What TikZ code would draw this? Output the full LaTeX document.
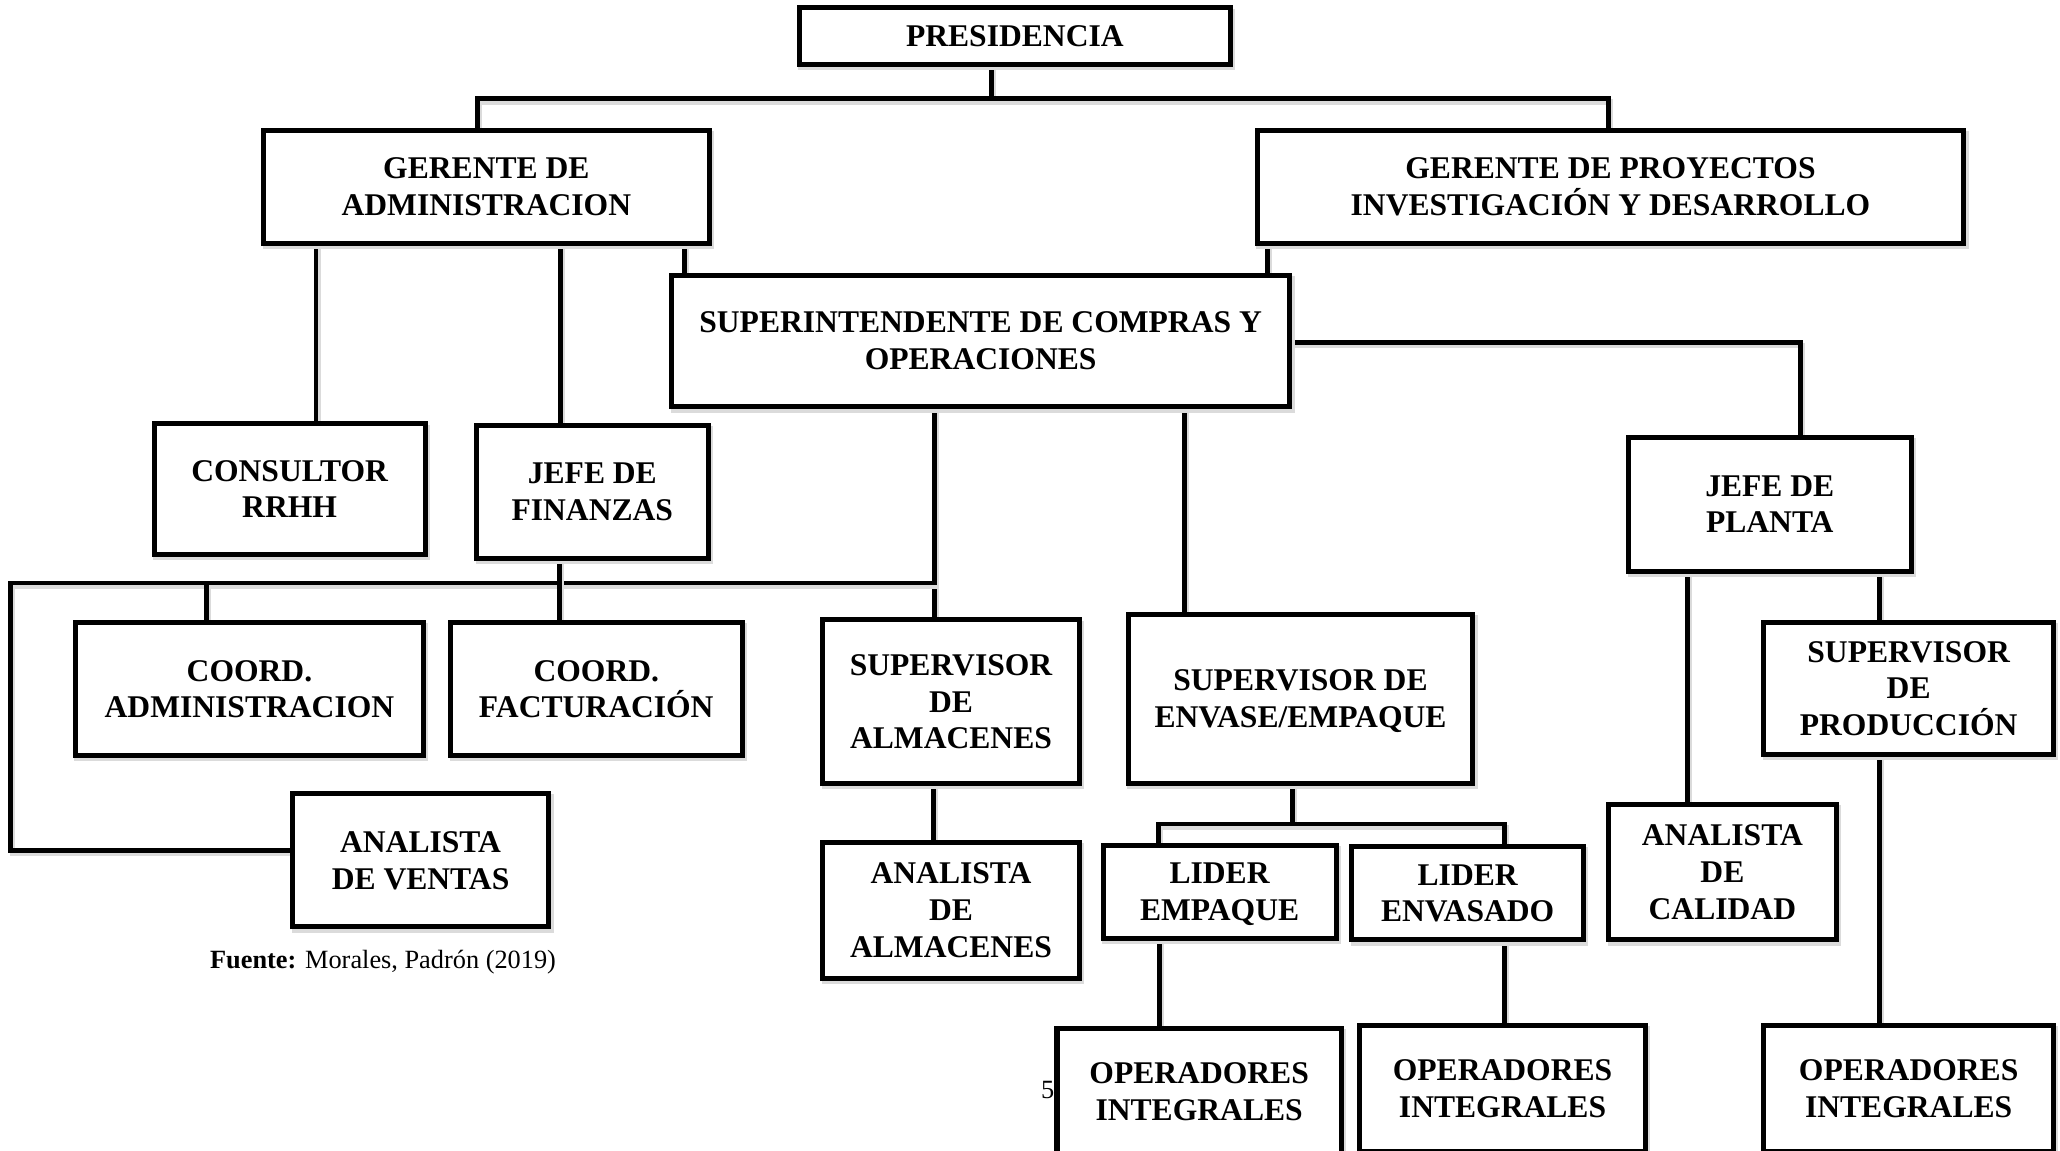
\documentclass[tikz,border=0pt]{standalone}
\usepackage{fontspec}
\setmainfont{Liberation Serif}
\usetikzlibrary{backgrounds}
\begin{document}
\begin{tikzpicture}[x=1pt,y=1pt,
  shd/.style={preaction={draw=black!14, line width=4pt, transform canvas={shift={(1.5pt,-2.5pt)}}}},
  box/.style={draw=black, line width=3.8pt, fill=white, inner sep=0pt, align=center, text depth=0pt,
    font=\fontsize{24}{28}\selectfont\bfseries, shd},
  conn/.style={draw=black, line width=3.6pt, line cap=rect, line join=miter, shd},
  note/.style={font=\fontsize{20}{24}\selectfont, inner sep=0pt}]
\useasboundingbox (0,0) rectangle (1565,-874);
\clip (0,0) rectangle (1565,-874);

% boxes
\node[box, minimum width=328, minimum height=43, text depth=-6pt] (pres) at (771,-27.5) {PRESIDENCIA};
\node[box, minimum width=339, minimum height=86] (gadm) at (369.5,-142) {GERENTE DE\\ADMINISTRACION};
\node[box, minimum width=537, minimum height=86] (gproy) at (1223.5,-142) {GERENTE DE PROYECTOS\\INVESTIGACIÓN Y DESARROLLO};
\node[box, minimum width=470, minimum height=100] (sup) at (745,-259) {SUPERINTENDENTE DE COMPRAS Y\\OPERACIONES};
\node[box, minimum width=206, minimum height=99] (cons) at (220,-371.5) {CONSULTOR\\RRHH};
\node[box, minimum width=176, minimum height=101] (jfin) at (450,-373.5) {JEFE DE\\FINANZAS};
\node[box, minimum width=215, minimum height=102] (jpla) at (1344.5,-383) {JEFE DE\\PLANTA};
\node[box, minimum width=265, minimum height=101] (cadm) at (189.5,-523.5) {COORD.\\ADMINISTRACION};
\node[box, minimum width=222, minimum height=101] (cfac) at (453,-523.5) {COORD.\\FACTURACIÓN};
\node[box, minimum width=195, minimum height=101] (aven) at (319.5,-653.5) {ANALISTA\\DE VENTAS};
\node[box, minimum width=195, minimum height=124] (salm) at (722.5,-533) {SUPERVISOR\\DE\\ALMACENES};
\node[box, minimum width=195, minimum height=103] (aalm) at (722.5,-691.5) {ANALISTA\\DE\\ALMACENES};
\node[box, minimum width=262, minimum height=128] (senv) at (988,-531) {SUPERVISOR DE\\ENVASE/EMPAQUE};
\node[box, minimum width=177, minimum height=71] (lemp) at (926.5,-677.5) {LIDER\\EMPAQUE};
\node[box, minimum width=176, minimum height=71] (lenv) at (1115,-678.5) {LIDER\\ENVASADO};
\node[box, minimum width=173, minimum height=103] (acal) at (1308.5,-662.5) {ANALISTA\\DE\\CALIDAD};
\node[box, minimum width=220, minimum height=100] (sprod) at (1450,-523) {SUPERVISOR\\DE\\PRODUCCIÓN};
\node[box, minimum width=216, minimum height=96] (op1) at (911,-829) {OPERADORES\\INTEGRALES};
\node[box, minimum width=217, minimum height=96] (op2) at (1141.5,-827) {OPERADORES\\INTEGRALES};
\node[box, minimum width=220, minimum height=96] (op3) at (1450,-827) {OPERADORES\\INTEGRALES};

\node[note] (src) at (291,-731) {\textbf{Fuente:} Morales, Padrón (2019)};
\node[note] (pg) at (796,-828) {5};

% x positions of connectors
\foreach \n/\v in {x8/8,x157/157,x240/240,x363/363,x425/425,x426/426,x520/520,x709/709,x710/710,
  x753/753,x880/880,x881/881,x900/900,x963/963,x982/982,x1143/1143,x1222/1222,x1282/1282,x1368/1368,x1428/1428}
  {\coordinate (\n) at (\v,0);}
\coordinate (b0L) at (363,-75);
\coordinate (b0R) at (1222,-75);
\coordinate (b0) at (753,-75);
\coordinate (bL) at (8,-443);
\coordinate (bR) at (710,-443);
\coordinate (vL) at (8,-646);
\coordinate (pT) at (1368,-260);
\coordinate (eL) at (880,-626);
\coordinate (eR) at (1143,-626);
\coordinate (eM) at (982,-626);

\begin{scope}[on background layer]
\fill[white] (0,0) rectangle (1565,-874);
\path[conn] (x753 |- pres.south) -- (b0);
\path[conn] (x363 |- gadm.north) -- (b0L) -- (b0R) -- (x1222 |- gproy.north);
\path[conn] (x520 |- gadm.south) -- (x520 |- sup.north);
\path[conn] (x963 |- gproy.south) -- (x963 |- sup.north);
\path[conn] (x240 |- gadm.south) -- (x240 |- cons.north);
\path[conn] (x426 |- gadm.south) -- (x426 |- jfin.north);
\path[conn] (x710 |- sup.south) -- (x710 |- salm.north);
\path[conn] (bR) -- (bL) -- (vL) -- (vL -| aven.west);
\path[conn] (x425 |- jfin.south) -- (x425 |- cfac.north);
\path[conn] (x157 |- bL) -- (x157 |- cadm.north);
\path[conn] (x900 |- sup.south) -- (x900 |- senv.north);
\path[conn] (pT -| sup.east) -- (pT) -- (x1368 |- jpla.north);
\path[conn] (x709 |- salm.south) -- (x709 |- aalm.north);
\path[conn] (eM |- senv.south) -- (eM);
\path[conn] (x880 |- lemp.north) -- (eL) -- (eR) -- (x1143 |- lenv.north);
\path[conn] (x881 |- lemp.south) -- (x881 |- op1.north);
\path[conn] (x1143 |- lenv.south) -- (x1143 |- op2.north);
\path[conn] (x1282 |- jpla.south) -- (x1282 |- acal.north);
\path[conn] (x1428 |- jpla.south) -- (x1428 |- sprod.north);
\path[conn] (x1428 |- sprod.south) -- (x1428 |- op3.north);
\end{scope}
\end{tikzpicture}
\end{document}
